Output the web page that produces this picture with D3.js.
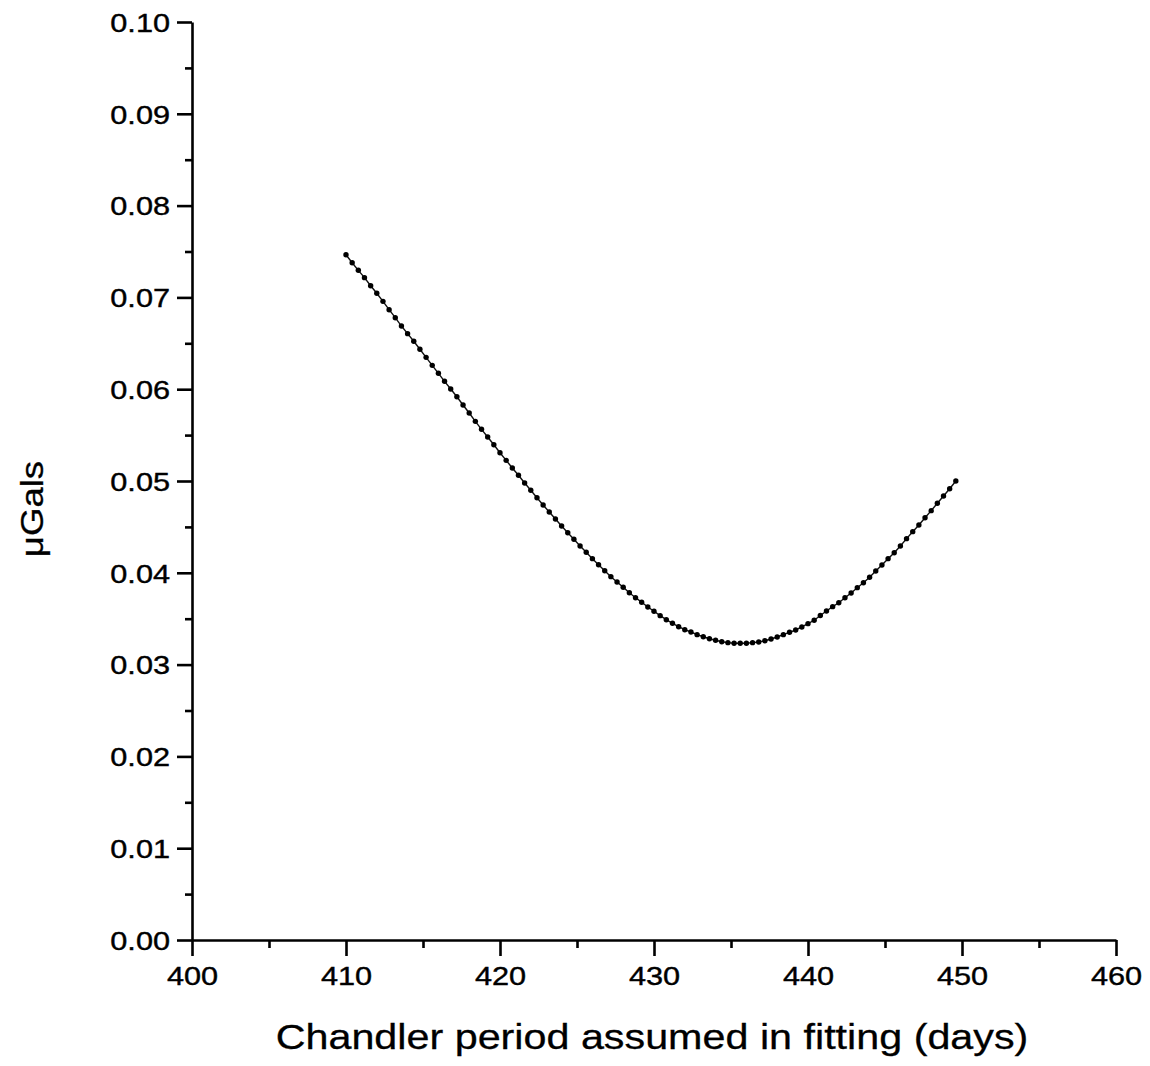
<!DOCTYPE html>
<html>
<head>
<meta charset="utf-8">
<script src="https://cdn.jsdelivr.net/npm/d3@7"></script>
<style>
  html, body { margin: 0; padding: 0; background: #fff; }
  svg { display: block; }
  text { font-family: "Liberation Sans", Arial, Helvetica, sans-serif; fill: #000; }
</style>
</head>
<body>
<svg id="chart" width="1150" height="1066"></svg>
<script>
// Assumed Chandler period (days), sampled every 0.4 day
const periods = [
  410.0, 410.4, 410.8, 411.2, 411.6, 412.0, 412.4, 412.8, 413.2, 413.6,
  414.0, 414.4, 414.8, 415.2, 415.6, 416.0, 416.4, 416.8, 417.2, 417.6,
  418.0, 418.4, 418.8, 419.2, 419.6, 420.0, 420.4, 420.8, 421.2, 421.6,
  422.0, 422.4, 422.8, 423.2, 423.6, 424.0, 424.4, 424.8, 425.2, 425.6,
  426.0, 426.4, 426.8, 427.2, 427.6, 428.0, 428.4, 428.8, 429.2, 429.6,
  430.0, 430.4, 430.8, 431.2, 431.6, 432.0, 432.4, 432.8, 433.2, 433.6,
  434.0, 434.4, 434.8, 435.2, 435.6, 436.0, 436.4, 436.8, 437.2, 437.6,
  438.0, 438.4, 438.8, 439.2, 439.6, 440.0, 440.4, 440.8, 441.2, 441.6,
  442.0, 442.4, 442.8, 443.2, 443.6, 444.0, 444.4, 444.8, 445.2, 445.6,
  446.0, 446.4, 446.8, 447.2, 447.6, 448.0, 448.4, 448.8, 449.2, 449.6
];

// Fit residual (µGals) for each assumed period
const residuals = [
  0.07465, 0.07378, 0.07295, 0.07215, 0.07127, 0.07045, 0.06957, 0.06866, 0.06779, 0.06688,
  0.06605, 0.06522, 0.06435, 0.06347, 0.06260, 0.06173, 0.06086, 0.06002, 0.05918, 0.05828,
  0.05741, 0.05650, 0.05563, 0.05479, 0.05395, 0.05308, 0.05225, 0.05142, 0.05062, 0.04978,
  0.04899, 0.04818, 0.04739, 0.04662, 0.04586, 0.04510, 0.04437, 0.04365, 0.04292, 0.04224,
  0.04154, 0.04088, 0.04023, 0.03958, 0.03900, 0.03842, 0.03783, 0.03729, 0.03679, 0.03627,
  0.03581, 0.03533, 0.03489, 0.03450, 0.03413, 0.03380, 0.03355, 0.03326, 0.03303, 0.03282,
  0.03265, 0.03249, 0.03239, 0.03232, 0.03232, 0.03232, 0.03239, 0.03246, 0.03260, 0.03279,
  0.03301, 0.03326, 0.03352, 0.03377, 0.03410, 0.03446, 0.03483, 0.03535, 0.03584, 0.03631,
  0.03674, 0.03729, 0.03780, 0.03838, 0.03892, 0.03951, 0.04020, 0.04085, 0.04154, 0.04219,
  0.04292, 0.04372, 0.04448, 0.04521, 0.04600, 0.04677, 0.04757, 0.04837, 0.04916, 0.05000
];

const xMajorTicks = [400, 410, 420, 430, 440, 450, 460];
const xMinorTicks = [405, 415, 425, 435, 445, 455];
const yMajorTicks = [0.00, 0.01, 0.02, 0.03, 0.04, 0.05, 0.06, 0.07, 0.08, 0.09, 0.10];
const yMinorTicks = [0.005, 0.015, 0.025, 0.035, 0.045, 0.055, 0.065, 0.075, 0.085, 0.095];

const xTitle = "Chandler period assumed in fitting (days)";
const yTitle = "\u03BCGals";

const margin = { left: 192, top: 22, right: 34, bottom: 126 };
const W = 1150, H = 1066;
const plotW = W - margin.left - margin.right;
const plotH = H - margin.top - margin.bottom;
const stretch = 1.18; // wide sans lettering

const svg = d3.select("#chart");
const g = svg.append("g").attr("transform", `translate(${margin.left},${margin.top})`);

const x = d3.scaleLinear().domain([400, 460]).range([0, plotW]);
const y = d3.scaleLinear().domain([0, 0.10]).range([plotH, 0]);

// Minor ticks (no labels)
g.append("g")
  .attr("transform", `translate(0,${plotH})`)
  .call(d3.axisBottom(x).tickValues(xMinorTicks).tickSize(8).tickSizeOuter(0).tickFormat(""))
  .call(s => s.select(".domain").remove());
g.append("g")
  .call(d3.axisLeft(y).tickValues(yMinorTicks).tickSize(7).tickSizeOuter(0).tickFormat(""))
  .call(s => s.select(".domain").remove());

// Major x axis
const xAxis = g.append("g")
  .attr("transform", `translate(0,${plotH})`)
  .call(d3.axisBottom(x).tickValues(xMajorTicks).tickSize(16).tickSizeOuter(0).tickPadding(11).tickFormat(d3.format("d")));
xAxis.selectAll("text")
  .attr("font-size", 26)
  .attr("dy", "0.71em")
  .attr("transform", `scale(${stretch},1)`);

// Major y axis
const yAxis = g.append("g")
  .call(d3.axisLeft(y).tickValues(yMajorTicks).tickSize(15).tickSizeOuter(0).tickFormat(d3.format(".2f")));
yAxis.selectAll("text")
  .attr("font-size", 26)
  .attr("x", -22 / stretch)
  .attr("dy", "0.36em")
  .attr("transform", `scale(${stretch},1)`);

svg.selectAll(".domain, .tick line")
  .attr("stroke", "#000")
  .attr("stroke-width", 2.6);
svg.selectAll(".tick text")
  .attr("fill", "#000")
  .attr("stroke", "#000")
  .attr("stroke-width", 0.4);

// Series: thin connector plus filled dots
const line = d3.line()
  .x((d, i) => x(periods[i]))
  .y(d => y(d));
g.append("path")
  .datum(residuals)
  .attr("fill", "none")
  .attr("stroke", "#111")
  .attr("stroke-width", 1.4)
  .attr("d", line);
g.append("g")
  .selectAll("circle")
  .data(residuals)
  .join("circle")
  .attr("cx", (d, i) => x(periods[i]))
  .attr("cy", d => y(d))
  .attr("r", 2.7)
  .attr("fill", "#000");

// Axis titles
svg.append("text")
  .attr("transform", `translate(${margin.left + plotW / 2 - 2},1049) scale(${stretch},1)`)
  .attr("text-anchor", "middle")
  .attr("font-size", 35)
  .attr("stroke", "#000")
  .attr("stroke-width", 0.3)
  .text(xTitle);

svg.append("text")
  .attr("transform", `translate(43,509) rotate(-90) scale(${stretch},1)`)
  .attr("text-anchor", "middle")
  .attr("font-size", 31)
  .attr("stroke", "#000")
  .attr("stroke-width", 0.3)
  .text(yTitle);
</script>
</body>
</html>
